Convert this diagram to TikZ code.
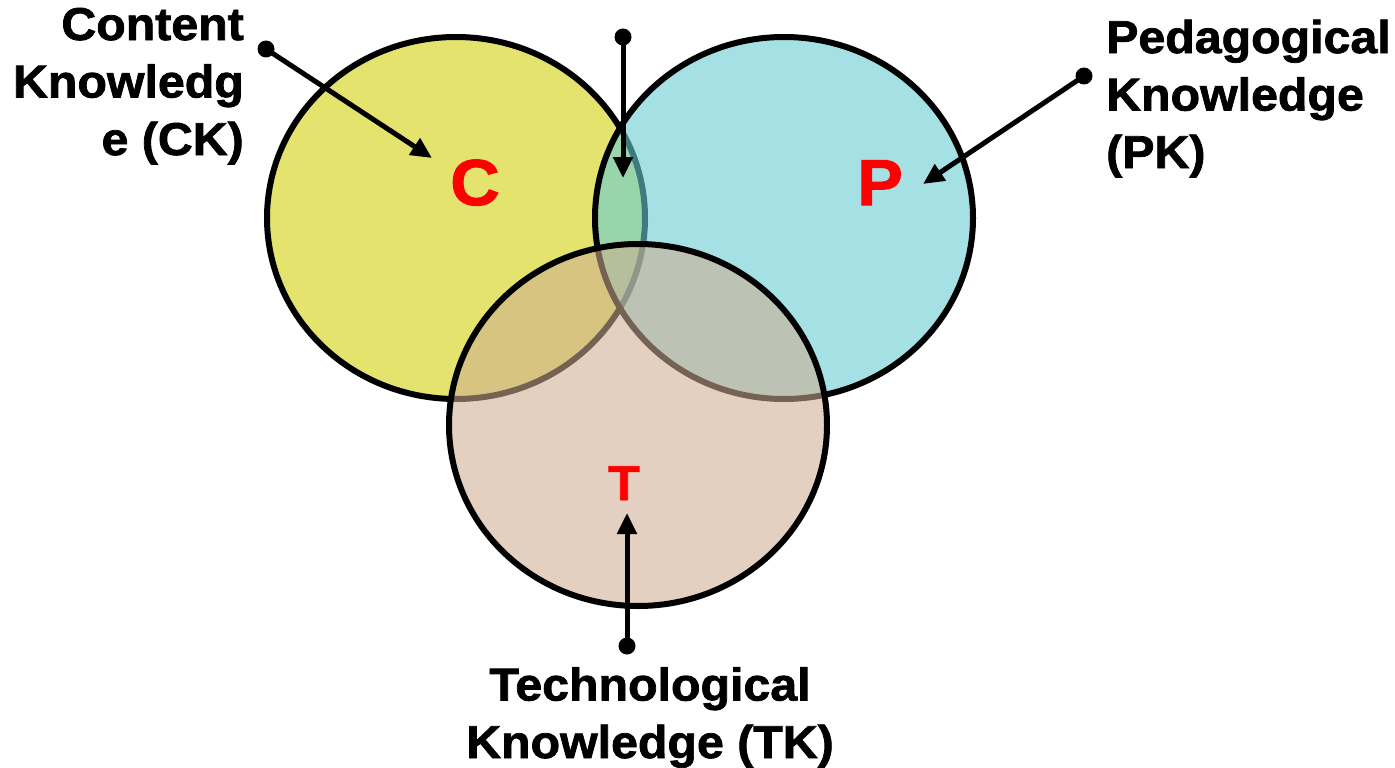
\documentclass[tikz,border=0pt]{standalone}
\usepackage{fontspec}
\setmainfont[FakeStretch=1.05,FakeBold=1.6]{Liberation Sans}
\usetikzlibrary{arrows.meta,shapes.geometric}

\definecolor{ckfill}{RGB}{227,227,110}
\definecolor{pkfill}{RGB}{105,205,210}
\definecolor{tkfill}{RGB}{206,173,145}
\definecolor{lettred}{RGB}{255,0,0}

\begin{document}
\begin{tikzpicture}[x=1pt,y=-1pt,
  set/.style={ellipse, draw=black, line width=6pt, inner sep=0pt,
              minimum width=378pt, minimum height=362pt},
  caption/.style={font=\fontsize{46}{57.5}\selectfont\bfseries, inner sep=0pt},
  letter/.style={font=\fontsize{65}{65}\selectfont\bfseries, text=lettred, inner sep=0pt},
  pin/.style={circle, fill=black, inner sep=0pt, minimum size=17pt},
  pointer/.style={line width=5pt, -{Triangle[length=21pt,width=19pt]}}]

\useasboundingbox (0,0) rectangle (1395,768);

% the three knowledge domains
\node[set, fill=ckfill] (C) at (456,218) {};
\node[set, fill=pkfill, fill opacity=0.6, draw opacity=1] (P) at (784,218) {};
\node[set, fill=tkfill, fill opacity=0.57, draw opacity=1] (T) at (638,425) {};

% domain letters
\node[letter, anchor=base] (Cl) at (475,205) {C};
\node[letter, anchor=base] (Pl) at (880,205) {P};
\node[letter, anchor=base, font=\fontsize{49}{49}\selectfont\bfseries] (Tl) at (624,500) {T};

% captions (anchored on the baseline of their last line)
\node[caption, anchor=base east, align=right] (CK) at (244,155)
  {Content\\Knowledg\\e (CK)};
\node[caption, anchor=base west, align=left] (PK) at (1106,168)
  {Pedagogical\\Knowledge\\(PK)};
\node[caption, anchor=base, align=center] (TK) at (650,758)
  {Technological\\Knowledge (TK)};

% pointer start dots and arrow targets
\node[pin] (ckdot) at (266,49) {};
\node[pin] (topdot) at (623,37) {};
\node[pin] (pkdot) at (1084,76) {};
\node[pin] (tkdot) at (627,646) {};
\coordinate (cktip) at (432,158);
\coordinate (toptip) at (623,178);
\coordinate (pktip) at (923,184);
\coordinate (tktip) at (627,513);

\draw[pointer] (ckdot.center) -- (cktip);
\draw[pointer] (topdot.center) -- (toptip);
\draw[pointer] (pkdot.center) -- (pktip);
\draw[pointer] (tkdot.center) -- (tktip);

\end{tikzpicture}
\end{document}
